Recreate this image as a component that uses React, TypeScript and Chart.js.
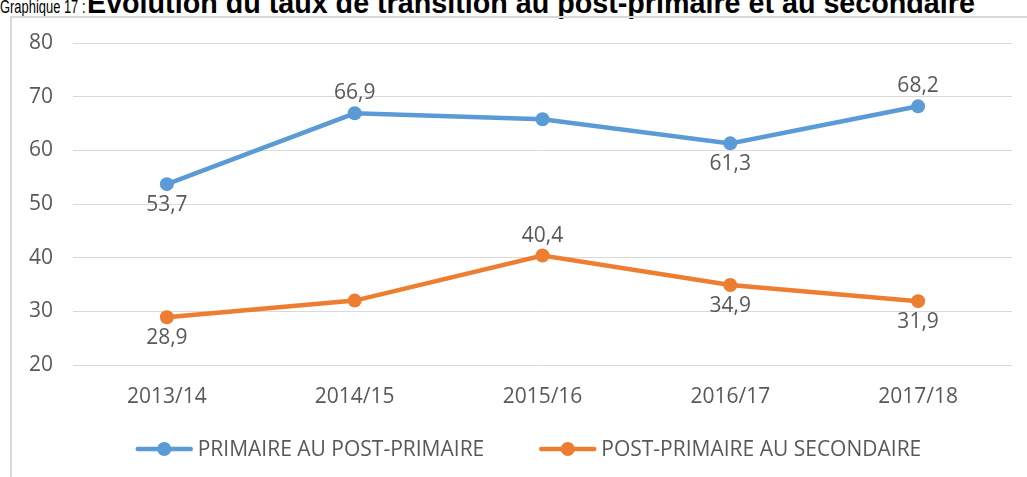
import React, { useEffect, useRef } from "react";
import { Chart, registerables } from "chart.js";

Chart.register(...registerables);

const categories = ["2013/14", "2014/15", "2015/16", "2016/17", "2017/18"];
const primaireValues = [53.7, 66.9, 65.8, 61.3, 68.2];
const postPrimaireValues = [28.9, 32.0, 40.4, 34.9, 31.9];
const primaireLabelPlacement = ["below", "above", null, "below", "above"];
const postPrimaireLabelPlacement = ["below", null, "above", "below", "below"];
const seriesNames = ["PRIMAIRE AU POST-PRIMAIRE", "POST-PRIMAIRE AU SECONDAIRE"];
const yMin = 20;
const yMax = 80;
const yStep = 10;

const BLUE = "#5B9BD5";
const ORANGE = "#ED7D31";
const TEXT = "#595959";
const GRID = "#d9d9d9";
const FONT = "'Open Sans', 'Noto Sans', sans-serif";

const pointLabelsPlugin = {
  id: "pointLabels",
  afterDatasetsDraw(chart: any) {
    const ctx = chart.ctx;
    ctx.save();
    ctx.font = `21px ${FONT}`;
    ctx.fillStyle = TEXT;
    ctx.textAlign = "center";
    ctx.textBaseline = "middle";
    chart.data.datasets.forEach((ds: any, di: number) => {
      const meta = chart.getDatasetMeta(di);
      meta.data.forEach((pt: any, i: number) => {
        const place = ds.labelPlacement[i];
        if (!place) return;
        const text = Number(ds.data[i]).toFixed(1).replace(".", ",");
        const y = place === "above" ? pt.y - 20 : pt.y + 21;
        ctx.fillText(text, pt.x, y);
      });
    });
    ctx.restore();
  },
};

const customLegendPlugin = {
  id: "customLegend",
  afterDraw(chart: any) {
    const ctx = chart.ctx;
    ctx.save();
    ctx.font = `21px ${FONT}`;
    ctx.textBaseline = "middle";
    ctx.textAlign = "left";
    const lineLen = 57;
    const gapText = 5;
    const gapItems = 55;
    const items = chart.data.datasets.map((ds: any) => ({
      text: ds.label,
      color: ds.borderColor,
      w: ctx.measureText(ds.label).width,
    }));
    let total = 0;
    items.forEach((it: any, i: number) => {
      total += lineLen + gapText + it.w + (i > 0 ? gapItems : 0);
    });
    let x = chart.width / 2 - total / 2;
    const y = chart.chartArea.bottom + 84;
    items.forEach((it: any, i: number) => {
      if (i > 0) x += gapItems;
      ctx.strokeStyle = it.color;
      ctx.lineWidth = 4.5;
      ctx.lineCap = "round";
      ctx.beginPath();
      ctx.moveTo(x + 2, y);
      ctx.lineTo(x + lineLen - 2, y);
      ctx.stroke();
      ctx.fillStyle = it.color;
      ctx.beginPath();
      ctx.arc(x + lineLen / 2, y, 7, 0, Math.PI * 2);
      ctx.fill();
      x += lineLen + gapText;
      ctx.fillStyle = TEXT;
      ctx.fillText(it.text, x, y + 1);
      x += it.w;
    });
    ctx.restore();
  },
};

export default function App() {
  const canvasRef = useRef<HTMLCanvasElement | null>(null);

  useEffect(() => {
    let chart: Chart | null = null;
    let cancelled = false;
    const build = () => {
      if (cancelled || !canvasRef.current) return;
      chart = new Chart(canvasRef.current, {
        type: "line",
        data: {
          labels: categories,
          datasets: [
            {
              label: seriesNames[0],
              data: primaireValues,
              borderColor: BLUE,
              backgroundColor: BLUE,
              pointBackgroundColor: BLUE,
              pointBorderWidth: 0,
              pointRadius: 7,
              borderWidth: 4.5,
              tension: 0,
              labelPlacement: primaireLabelPlacement,
            } as any,
            {
              label: seriesNames[1],
              data: postPrimaireValues,
              borderColor: ORANGE,
              backgroundColor: ORANGE,
              pointBackgroundColor: ORANGE,
              pointBorderWidth: 0,
              pointRadius: 7,
              borderWidth: 4.5,
              tension: 0,
              labelPlacement: postPrimaireLabelPlacement,
            } as any,
          ],
        },
        options: {
          animation: false,
          responsive: false,
          maintainAspectRatio: false,
          layout: { padding: { top: 27, right: 35, left: 0, bottom: 62 } },
          plugins: {
            legend: { display: false },
            tooltip: { enabled: false },
            title: { display: false },
          },
          scales: {
            x: {
              offset: true,
              grid: { display: false, drawTicks: false },
              border: { display: false },
              ticks: {
                color: TEXT,
                font: { family: FONT, size: 21 },
                padding: 19,
                maxRotation: 0,
              },
              afterFit: (scale: any) => {
                scale.height = 50;
              },
            },
            y: {
              min: yMin,
              max: yMax,
              grid: { color: GRID, lineWidth: 1, drawTicks: false },
              border: { display: false },
              ticks: {
                stepSize: yStep,
                color: TEXT,
                font: { family: FONT, size: 21 },
                padding: 20,
              },
              afterFit: (scale: any) => {
                scale.width = 63;
                scale.paddingTop = 12;
                scale.paddingBottom = 12;
              },
            },
          },
        },
        plugins: [pointLabelsPlugin, customLegendPlugin],
      });
    };
    const fontsReady = (document as any).fonts
      ? Promise.all([
          (document as any).fonts.load(`21px 'Open Sans'`),
          (document as any).fonts.load(`bold 24px 'Liberation Sans'`),
        ]).catch(() => null)
      : Promise.resolve(null);
    fontsReady.then(build);
    return () => {
      cancelled = true;
      if (chart) chart.destroy();
    };
  }, []);

  const titleFont = "'Liberation Sans', Arial, sans-serif";

  return (
    <div
      style={{
        position: "fixed",
        left: 0,
        top: 0,
        width: 1027,
        height: 477,
        overflow: "hidden",
        background: "#ffffff",
      }}
    >
      <div
        style={{
          position: "absolute",
          left: 0,
          top: -3,
          whiteSpace: "nowrap",
          fontFamily: titleFont,
          fontSize: 19,
          lineHeight: "19px",
          color: "#000",
          transform: "scaleX(0.68)",
          transformOrigin: "0 0",
        }}
      >
        Graphique 17 :
      </div>
      <div
        style={{
          position: "absolute",
          left: 87,
          top: -11,
          whiteSpace: "nowrap",
          fontFamily: titleFont,
          fontSize: 28.7,
          lineHeight: "28.7px",
          fontWeight: "bold",
          color: "#000",
        }}
      >
        Evolution du taux de transition au post-primaire et au secondaire
      </div>
      <canvas
        ref={canvasRef}
        width={1037}
        height={461}
        style={{ position: "absolute", left: 10, top: 16, width: 1037, height: 461 }}
      />
      <div
        style={{
          position: "absolute",
          left: 10,
          top: 16,
          width: 1100,
          height: 600,
          borderLeft: `2px solid ${GRID}`,
          borderTop: `2px solid ${GRID}`,
          pointerEvents: "none",
        }}
      />
    </div>
  );
}
